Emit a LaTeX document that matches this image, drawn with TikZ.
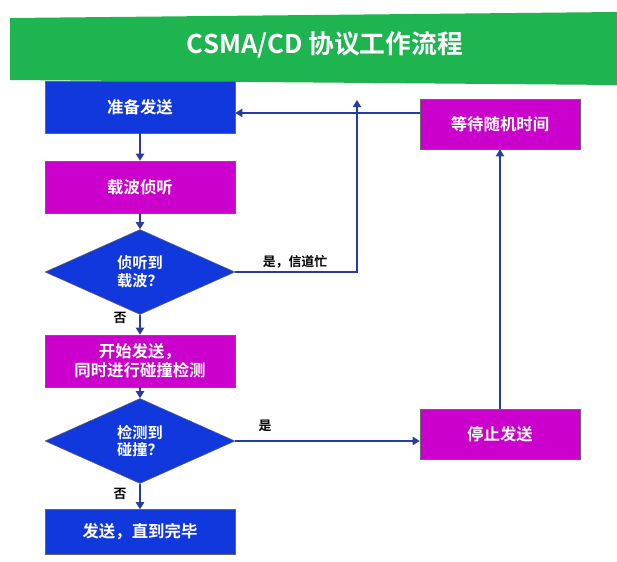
\documentclass[tikz,border=0pt]{standalone}
\usepackage{fontspec}
\setmainfont{Noto Sans CJK SC}[BoldFont={Noto Sans CJK SC Bold}]
\usetikzlibrary{shapes.geometric,arrows.meta}
\definecolor{bbox}{RGB}{16,56,220}
\definecolor{mbox}{RGB}{204,0,204}
\definecolor{gban}{RGB}{30,180,80}
\definecolor{lnc}{RGB}{40,60,160}
\begin{document}
\begin{tikzpicture}[x=0.03cm,y=-0.03cm,
  box/.style={draw=black!60,minimum width=190*0.03cm,minimum height=52*0.03cm,text=white,font=\bfseries\fontsize{14}{16}\selectfont,align=center,inner sep=1pt},
  bluebox/.style={box,fill=bbox},
  magbox/.style={box,fill=mbox},
  dia/.style={diamond,aspect=2.3,fill=bbox,draw=black!60,text=white,font=\bfseries\fontsize{13}{15}\selectfont,align=center,inner sep=0pt,minimum width=190*0.03cm,minimum height=85*0.03cm},
  arr/.style={-{Triangle[length=6pt,width=7pt]},draw=lnc,line width=1.2pt},
  lab/.style={font=\bfseries\fontsize{11}{13}\selectfont}]
\useasboundingbox (0,0) rectangle (617,562);
\fill[gban] (10,18) -- (617,12) -- (617,85) -- (10,80) -- cycle;
\node[text=white,font=\bfseries\fontsize{22}{26}\selectfont] (title) at (325,45) {CSMA/CD 协议工作流程};
\node[bluebox] (prep) at (140,107) {准备发送};
\node[magbox] (sense) at (140,187) {载波侦听};
\node[dia] (d1) at (140,272) {侦听到\\载波？};
\node[magbox] (start) at (140,361) {开始发送，\\同时进行碰撞检测};
\node[dia] (d2) at (140,441) {检测到\\碰撞？};
\node[bluebox,minimum height=45*0.03cm] (done) at (140,532) {发送，直到完毕};
\node[magbox,minimum width=160*0.03cm,minimum height=50*0.03cm] (wait) at (500,124) {等待随机时间};
\node[magbox,minimum width=160*0.03cm,minimum height=50*0.03cm] (stop) at (500,434) {停止发送};
\coordinate (c1) at (357,272);
\coordinate (c2) at (357,100);
\draw[arr] (prep) -- (sense);
\draw[arr] (sense) -- (d1);
\draw[arr] (d1) -- (start);
\draw[arr] (start) -- (d2);
\draw[arr] (d2) -- (done);
\draw[arr] (d1.east) -- (c1) -- (c2);
\draw[arr] (wait.west |- 0,113) -- (prep.east |- 0,113);
\draw[arr] (d2.east) -- (stop.west |- d2.east);
\draw[arr] (stop) -- (wait);
\node[lab] (l1) at (295,262) {是，信道忙};
\node[lab] (l2) at (265,426) {是};
\node[lab] (l3) at (120,318) {否};
\node[lab] (l4) at (120,494) {否};
\end{tikzpicture}
\end{document}
